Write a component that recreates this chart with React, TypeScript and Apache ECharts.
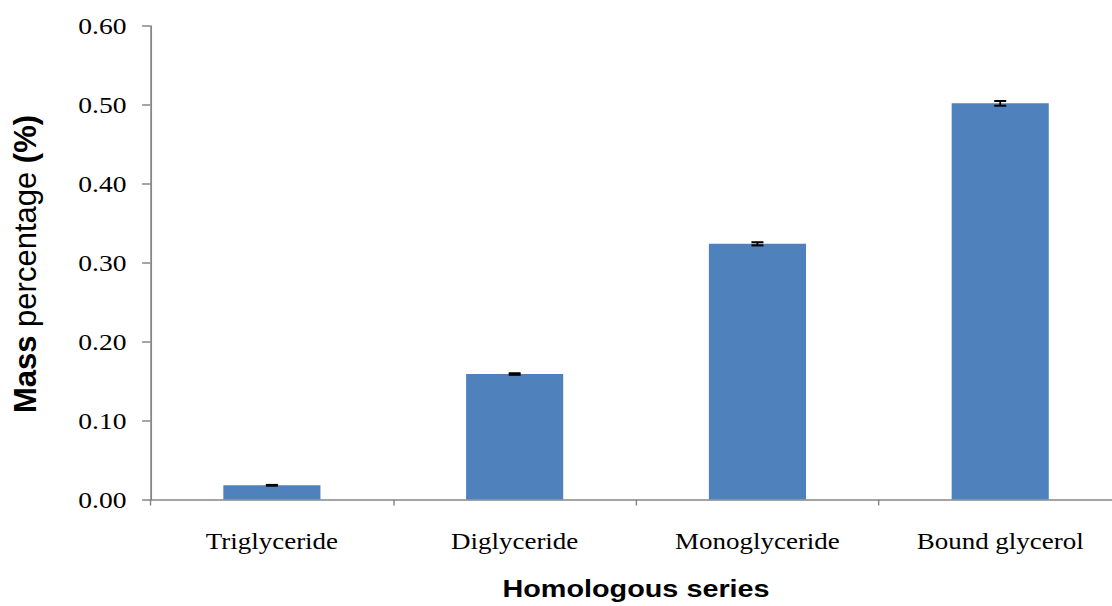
import React, { useEffect, useRef } from "react";
import * as echarts from "echarts";

// Homologous series and their mass percentages
const categories = ["Triglyceride", "Diglyceride", "Monoglyceride", "Bound glycerol"];
const massPercent = [0.018, 0.159, 0.324, 0.502];
const errors = [0.0005, 0.001, 0.002, 0.003];
const yTicks = { min: 0, max: 0.6, interval: 0.1 };

const SERIF = "'Liberation Serif', 'Times New Roman', serif";
const SANS = "'Liberation Sans', Arial, sans-serif";
const AXIS_GREY = "#868686";

// The chart is laid out on a narrower canvas and widened horizontally.
const STRETCH = 1.2;
const FULL_W = 1112;
const FULL_H = 606;
const CHART_W = Math.round(FULL_W / STRETCH);

export default function App() {
  const ref = useRef<HTMLDivElement>(null);

  useEffect(() => {
    if (!ref.current) return;
    const chart = echarts.init(ref.current, undefined, { renderer: "svg" });
    const sx = FULL_W / CHART_W;

    const errorData = categories.map((_, i) => [i, massPercent[i], errors[i]]);

    chart.setOption({
      animation: false,
      backgroundColor: "#ffffff",
      grid: {
        left: 150.5 / sx,
        right: CHART_W - 1121.6 / sx,
        top: 26,
        bottom: FULL_H - 499.5,
        containLabel: false,
        outerBoundsMode: "none",
      },
      // Vertical axis title, kept at its natural proportions
      graphic: [
        {
          type: "text",
          x: 25 / sx,
          y: 264,
          rotation: Math.PI / 2,
          scaleY: 1 / sx,
          style: {
            text: "{b|Mass}{r|percentage}{b|(%)}",
            align: "center",
            verticalAlign: "middle",
            rich: {
              b: { fontFamily: SANS, fontWeight: "bold", fontSize: 31, fill: "#000", color: "#000" },
              r: {
                fontFamily: SANS,
                fontWeight: "normal",
                fontSize: 31,
                fill: "#000",
                color: "#000",
                padding: [0, 8.6, 0, 8.6],
              },
            },
          },
        },
      ],
      xAxis: {
        type: "category",
        data: categories,
        boundaryGap: true,
        name: "Homologous series",
        nameLocation: "middle",
        nameGap: 77,
        nameTextStyle: {
          fontFamily: SANS,
          fontWeight: "bold",
          fontSize: 24,
          color: "#000",
        },
        axisLine: { show: true, lineStyle: { color: AXIS_GREY, width: 1.5 } },
        axisTick: {
          show: true,
          alignWithLabel: false,
          interval: 0,
          length: 6,
          lineStyle: { color: AXIS_GREY, width: 1.2 },
        },
        axisLabel: {
          interval: 0,
          margin: 30,
          fontFamily: SERIF,
          fontSize: 22.5,
          color: "#000",
        },
        splitLine: { show: false },
      },
      yAxis: {
        type: "value",
        min: yTicks.min,
        max: yTicks.max,
        interval: yTicks.interval,
        axisLine: { show: true, lineStyle: { color: AXIS_GREY, width: 1.5 } },
        axisTick: { show: true, length: 7, lineStyle: { color: AXIS_GREY, width: 1.5 } },
        axisLabel: {
          margin: 20,
          fontFamily: SERIF,
          fontSize: 23,
          color: "#000",
          formatter: (v: number) => v.toFixed(2),
        },
        splitLine: { show: false },
      },
      series: [
        {
          type: "bar",
          data: massPercent,
          barWidth: "40%",
          itemStyle: { color: "#4F81BD" },
        },
        {
          type: "custom",
          data: errorData,
          encode: { x: 0, y: 1 },
          z: 10,
          renderItem: (_params: any, api: any) => {
            const idx = api.value(0);
            const mean = api.value(1);
            const err = api.value(2);
            const hi = api.coord([idx, mean + err]);
            const lo = api.coord([idx, mean - err]);
            const hw = 5;
            const style = { stroke: "#000", lineWidth: 2 };
            return {
              type: "group",
              children: [
                { type: "line", shape: { x1: hi[0] - hw, y1: hi[1], x2: hi[0] + hw, y2: hi[1] }, style },
                { type: "line", shape: { x1: lo[0] - hw, y1: lo[1], x2: lo[0] + hw, y2: lo[1] }, style },
                { type: "line", shape: { x1: hi[0], y1: hi[1], x2: lo[0], y2: lo[1] }, style: { stroke: "#000", lineWidth: 1.5 } },
              ],
            };
          },
        },
      ],
    });

    return () => chart.dispose();
  }, []);

  return (
    <div
      style={{
        position: "fixed",
        left: 0,
        top: 0,
        width: FULL_W,
        height: FULL_H,
        overflow: "hidden",
        background: "#fff",
      }}
    >
      <div
        ref={ref}
        style={{
          width: CHART_W,
          height: FULL_H,
          transform: `scaleX(${FULL_W / CHART_W})`,
          transformOrigin: "0 0",
        }}
      />
    </div>
  );
}
